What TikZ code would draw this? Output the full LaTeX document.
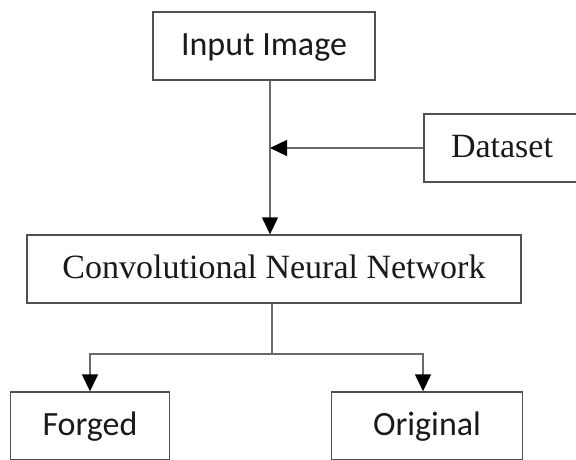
\documentclass[tikz,border=0pt]{standalone}
\usepackage{fontspec}
\setmainfont{Liberation Serif}
\newfontfamily\calib{Carlito}
\usetikzlibrary{arrows.meta}
\definecolor{boxgray}{HTML}{505050}
\definecolor{linegray}{HTML}{6A6A6A}
\definecolor{inkcol}{HTML}{1A1A1A}
\begin{document}
\begin{tikzpicture}[x=1pt,y=-1pt,
  box/.style={draw=boxgray, line width=1.4pt, inner sep=0pt, text height=25pt, text depth=7pt, minimum height=68pt, align=center, text=inkcol},
  sans/.style={font=\calib\fontsize{34}{40}\selectfont},
  serif/.style={font=\fontsize{34}{40}\selectfont},
  link/.style={draw=linegray, line width=1.4pt},
  arr/.style={link, -{Triangle[length=17pt,width=16pt,color=black]}}
]
\clip (0,0) rectangle (576,459);
\fill[white] (0,0) rectangle (576,459);
\node[box,sans,minimum width=222pt] (in) at (264,46) {Input Image};
\node[box,serif,minimum width=156pt] (ds) at (502,148) {Dataset};
\node[box,serif,minimum width=494pt] (cnn) at (274,269) {Convolutional Neural Network};
\node[box,sans,minimum width=159pt] (fg) at (90,426) {Forged};
\node[box,sans,minimum width=191pt] (og) at (427,426) {Original};
\coordinate (j) at (270,148);
\coordinate (s) at (272,354);
\coordinate (fa) at (90,354);
\coordinate (oa) at (423,354);
\draw[link] (in.south -| j) -- (j);
\draw[arr] (j) -- (j |- cnn.north);
\draw[arr] (ds.west) -- (j);
\draw[link] (cnn.south -| s) -- (s);
\draw[arr] (s) -- (fa) -- (fa |- fg.north);
\draw[arr] (s) -- (oa) -- (oa |- og.north);
\end{tikzpicture}
\end{document}
